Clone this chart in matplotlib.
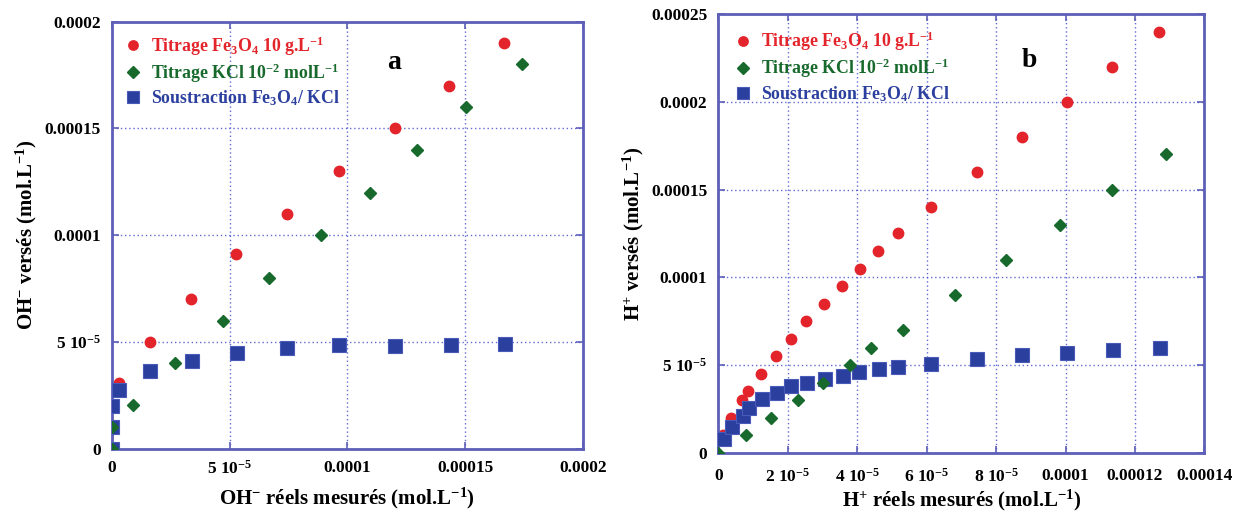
import matplotlib.pyplot as plt

plt.rcParams['font.family'] = 'Liberation Serif'
plt.rcParams['font.weight'] = 'bold'
plt.rcParams['axes.labelweight'] = 'bold'
plt.rcParams['mathtext.fontset'] = 'custom'
plt.rcParams['mathtext.rm'] = 'Liberation Serif:bold'
plt.rcParams['mathtext.bf'] = 'Liberation Serif:bold'
plt.rcParams['mathtext.it'] = 'Liberation Serif:bold'

# --- panel a : OH- (values x 1e-5 mol/L)
xa_fe = [0.3, 1.6, 3.35, 5.25, 7.45, 9.65, 12.0, 14.3, 16.65]
ya_fe = [3.1, 5.0, 7.0, 9.1, 11.0, 13.0, 15.0, 17.0, 19.0]
xa_kcl = [0, 0, 0.88, 2.7, 4.7, 6.66, 8.89, 10.94, 12.95, 15.05, 17.4]
ya_kcl = [0, 1.0, 2.04, 4.03, 6.0, 8.0, 10.0, 12.0, 14.0, 16.0, 18.0]
xa_sub = [0, 0, 0, 0.3, 1.6, 3.4, 5.3, 7.45, 9.65, 12.0, 14.4, 16.7]
ya_sub = [0, 1.0, 2.0, 2.75, 3.65, 4.12, 4.5, 4.73, 4.88, 4.81, 4.88, 4.92]

# --- panel b : H+ (values x 1e-5 mol/L)
xb_fe = [0.14, 0.37, 0.69, 0.84, 1.22, 1.66, 2.08, 2.52, 3.05, 3.57, 4.07, 4.6,
         5.17, 6.12, 7.44, 8.74, 10.03, 11.35, 12.7]
yb_fe = [1.0, 2.0, 3.0, 3.5, 4.5, 5.5, 6.5, 7.5, 8.5, 9.5, 10.5, 11.5,
         12.5, 14.0, 16.0, 18.0, 20.0, 22.0, 24.0]
xb_kcl = [0, 0.78, 1.51, 2.28, 3.0, 3.79, 4.4, 5.31, 6.8, 8.29, 9.83, 11.35, 12.9]
yb_kcl = [0, 1.0, 2.0, 3.0, 4.0, 5.0, 6.0, 7.0, 9.0, 11.0, 13.0, 15.0, 17.0]
xb_sub = [0.16, 0.38, 0.70, 0.88, 1.24, 1.68, 2.1, 2.54, 3.08, 3.58, 4.05, 4.62,
          5.17, 6.11, 7.46, 8.74, 10.03, 11.37, 12.72]
yb_sub = [0.77, 1.45, 2.08, 2.55, 3.05, 3.4, 3.82, 3.97, 4.2, 4.39, 4.62, 4.78,
          4.91, 5.06, 5.35, 5.55, 5.71, 5.86, 5.95]

ticks_a = [0, 5e-5, 1e-4, 1.5e-4, 2e-4]
ticklabels_a = ['0', r'5 10$^{-5}$', '0.0001', '0.00015', '0.0002']
xticks_b = [0, 2e-5, 4e-5, 6e-5, 8e-5, 1e-4, 1.2e-4, 1.4e-4]
xticklabels_b = ['0', r'2 10$^{-5}$', r'4 10$^{-5}$', r'6 10$^{-5}$', r'8 10$^{-5}$',
                 '0.0001', '0.00012', '0.00014']
yticks_b = [0, 5e-5, 1e-4, 1.5e-4, 2e-4, 2.5e-4]
yticklabels_b = ['0', r'5 10$^{-5}$', '0.0001', '0.00015', '0.0002', '0.00025']

leg_labels = [r'Titrage Fe$_3$O$_4$ 10 g.L$^{-1}$',
              r'Titrage KCl 10$^{-2}$ molL$^{-1}$',
              r'Soustraction Fe$_3$O$_4$/ KCl']

RED = '#e3242b'
GREEN = '#17692c'
BLUE = '#2b3f9e'
FRAME = '#5d5fb8'
SCALE = 1e-5

fig = plt.figure(figsize=(12.43, 5.17), dpi=100)
ax_a = fig.add_axes([0.090, 0.132, 0.379, 0.826])
ax_b = fig.add_axes([0.578, 0.124, 0.391, 0.849])


def draw(ax, xf, yf, xk, yk, xs, ys, pad_leg):
    ax.plot([v * SCALE for v in xs], [v * SCALE for v in ys], 's', color=BLUE,
            ms=9.5, mec='#4a5ab8', mew=0.8, label=leg_labels[2], zorder=3)
    ax.plot([v * SCALE for v in xk], [v * SCALE for v in yk], 'D', color=GREEN,
            ms=6.5, mec=GREEN, label=leg_labels[1], zorder=4)
    ax.plot([v * SCALE for v in xf], [v * SCALE for v in yf], 'o', color=RED,
            ms=7.5, mec=RED, label=leg_labels[0], zorder=2)
    for s in ax.spines.values():
        s.set_color(FRAME)
        s.set_linewidth(2)
    ax.grid(True, color='#3a46c8', linestyle=(0, (1, 2)), linewidth=1, alpha=0.8)
    ax.set_axisbelow(True)
    ax.tick_params(direction='in', top=True, right=True, length=5, width=1.2,
                   color=FRAME, labelsize=12.5, pad=8)
    h, l = ax.get_legend_handles_labels()
    leg = ax.legend(h[::-1], l[::-1], loc='upper left', frameon=False,
                    prop={'family': 'Liberation Serif', 'weight': 'bold', 'size': 12.8},
                    handletextpad=0.5, labelspacing=0.2, borderaxespad=pad_leg,
                    handlelength=1.0, markerscale=0.9)
    for t, c in zip(leg.get_texts(), [RED, GREEN, BLUE]):
        t.set_color(c)


draw(ax_a, xa_fe, ya_fe, xa_kcl, ya_kcl, xa_sub, ya_sub, 0.3)
ax_a.set_xlim(0, 2e-4)
ax_a.set_ylim(0, 2e-4)
ax_a.set_xticks(ticks_a, ticklabels_a)
ax_a.set_yticks(ticks_a, ticklabels_a)
ax_a.set_xlabel(r'OH$^{-}$ réels mesurés (mol.L$^{-1}$)', fontsize=15, labelpad=6)
ax_a.set_ylabel(r'OH$^{-}$ versés (mol.L$^{-1}$)', fontsize=15, labelpad=4)
ax_a.text(0.60, 0.905, 'a', transform=ax_a.transAxes, fontsize=20,
          ha='center', va='center')

draw(ax_b, xb_fe, yb_fe, xb_kcl, yb_kcl, xb_sub, yb_sub, 0.5)
ax_b.tick_params(axis='x', pad=11)
ax_b.set_xlim(0, 1.4e-4)
ax_b.set_ylim(0, 2.5e-4)
ax_b.set_xticks(xticks_b, xticklabels_b)
ax_b.set_yticks(yticks_b, yticklabels_b)
ax_b.set_xlabel(r'H$^{+}$ réels mesurés (mol.L$^{-1}$)', fontsize=15, labelpad=1)
ax_b.set_ylabel(r'H$^{+}$ versés (mol.L$^{-1}$)', fontsize=15, labelpad=4)
ax_b.text(0.64, 0.895, 'b', transform=ax_b.transAxes, fontsize=20,
          ha='center', va='center')

fig.savefig('out.png', dpi=100)
